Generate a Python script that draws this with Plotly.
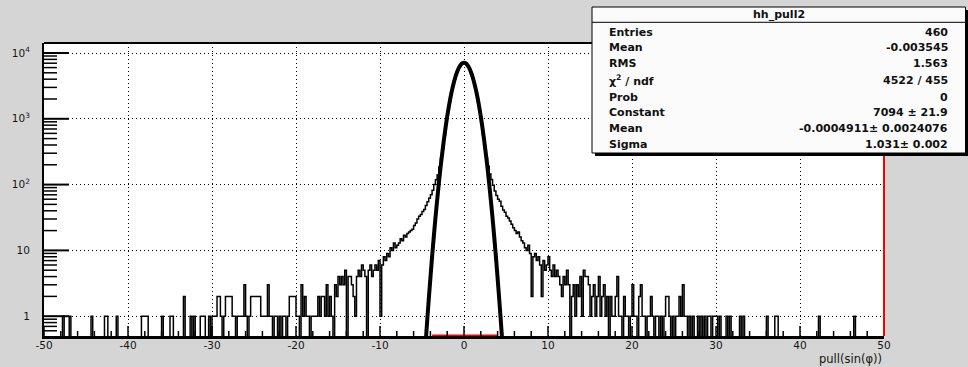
import numpy as np
import plotly.graph_objects as go

# ---------------- data ----------------
X_MIN, X_MAX, BIN_W = -50.0, 50.0, 0.2
Y_MIN, Y_MAX = 0.5, 14188.0

# sparse outer tails: bin centres and contents
far_left_centers = [-47.7, -46.9, -44.3, -42.7, -42.5, -41.3, -38.3, -38.1, -37.9, -37.7,
                    -35.9, -34.9, -34.7, -33.3, -32.5, -32.1, -31.3, -31.1, -30.9, -30.3]
far_left_counts = [1, 1, 1, 1, 1, 1, 1, 1, 1, 1,
                   1, 1, 1, 2, 1, 1, 1, 1, 1, 1]
far_right_centers = [30.1, 30.5, 31.3, 31.7, 32.9, 33.3, 36.1, 37.1, 37.3, 42.3, 46.5]
far_right_counts = [1, 1, 1, 1, 1, 1, 1, 1, 1, 1, 1]

# dense region, consecutive bins from -30 to 30 (bin width 0.2)
counts_left = [  # -30 .. -16
    1, 1, 1, 2, 2, 1, 0, 1, 2, 2,
    2, 2, 1, 1, 0, 1, 1, 1, 1, 3,
    1, 0, 1, 2, 2, 2, 2, 2, 2, 1,
    1, 1, 1, 3, 1, 1, 0, 1, 1, 0,
    1, 0, 1, 1, 0, 1, 2, 2, 2, 2,
    1, 1, 0, 3, 1, 2, 1, 1, 0, 1,
    1, 1, 1, 2, 1, 2, 2, 1, 3, 1]
counts_mid_left = [  # -16 .. -4
    2, 1, 0, 3, 2, 4, 3, 4, 3, 5,
    0, 4, 4, 3, 2, 1, 4, 5, 4, 6,
    5, 4, 0, 5, 6, 4, 5, 6, 5, 7,
    1, 6, 8, 7, 9, 8, 11, 10, 13, 11,
    12, 13, 15, 14, 17, 16, 18, 19, 20, 21,
    24, 26, 30, 33, 35, 39, 42, 48, 55, 62]
counts_core = [  # -4 .. 4
    70, 82, 100, 118, 140, 185, 250, 350, 560, 850,
    1280, 1800, 2440, 3170, 3990, 4840, 5610, 6270, 6770, 7060,
    7090, 6800, 6280, 5630, 4820, 4010, 3180, 2450, 1820, 1290,
    860, 570, 360, 255, 190, 145, 120, 98, 80, 68]
counts_mid_right = [  # 4 .. 16
    60, 56, 47, 41, 38, 33, 31, 28, 25, 22,
    20, 18, 19, 16, 14, 13, 11, 10, 12, 9,
    2, 8, 9, 7, 8, 6, 2, 7, 5, 6,
    8, 5, 4, 6, 4, 5, 4, 3, 2, 4,
    3, 5, 3, 0, 2, 3, 1, 3, 2, 4,
    1, 5, 4, 4, 3, 1, 2, 3, 1, 2]
counts_right = [  # 16 .. 30
    4, 1, 2, 3, 1, 2, 0, 2, 1, 1,
    2, 4, 1, 1, 0, 2, 1, 1, 0, 1,
    3, 1, 1, 0, 2, 3, 1, 1, 0, 1,
    1, 2, 1, 0, 1, 1, 0, 1, 0, 1,
    2, 2, 1, 0, 1, 0, 1, 1, 2, 1,
    3, 1, 1, 0, 1, 0, 1, 0, 0, 1,
    0, 1, 0, 1, 0, 1, 1, 0, 1, 1]

# gaussian fit curve
fit_x = [-4.6, -4.4, -4.2, -4.0, -3.8, -3.6, -3.4, -3.2, -3.0, -2.8, -2.6, -2.4,
         -2.2, -2.0, -1.8, -1.6, -1.4, -1.2, -1.0, -0.8, -0.6, -0.4, -0.2, 0.0,
         0.2, 0.4, 0.6, 0.8, 1.0, 1.2, 1.4, 1.6, 1.8, 2.0, 2.2, 2.4,
         2.6, 2.8, 3.0, 3.2, 3.4, 3.6, 3.8, 4.0, 4.2, 4.4, 4.6]
fit_y = [0.34, 0.79, 1.77, 3.8, 8.0, 16.0, 30.9, 57.4, 103, 178, 295, 472,
         728, 1081, 1545, 2128, 2821, 3604, 4432, 5250, 5989, 6580, 6962, 7094,
         6962, 6580, 5989, 5250, 4432, 3604, 2821, 2128, 1545, 1081, 728, 472,
         295, 178, 103, 57.4, 30.9, 16.0, 8.0, 3.8, 1.77, 0.79, 0.34]
fit_floor_x = [-3.8, 4.0]

x_tick_vals = [-50, -40, -30, -20, -10, 0, 10, 20, 30, 40, 50]
x_tick_text = ["-50", "-40", "-30", "-20", "-10", "0", "10", "20", "30", "40", "50"]
x_minor_step = 2
y_tick_vals = [1, 10, 100, 1000, 10000]
y_tick_text = ["1", "10", "10<sup>2</sup>", "10<sup>3</sup>", "10<sup>4</sup>"]

stat_title = "hh_pull2"
stat_labels = ["Entries", "Mean", "RMS", "\u03c7<sup>2</sup> / ndf", "Prob",
               "Constant", "Mean", "Sigma"]
stat_values = ["460", "-0.003545", "1.563", "4522 / 455", "0",
               "7094 \u00b1 21.9", "-0.0004911\u00b1 0.0024076", "1.031\u00b1 0.002"]
x_title = "pull(sin(\u03c6))"

# ---------------- build histogram ----------------
n_bins = int(round((X_MAX - X_MIN) / BIN_W))
counts = np.zeros(n_bins)


def bin_index(c):
    return int(round((c - X_MIN) / BIN_W - 0.5))


for c, v in zip(far_left_centers, far_left_counts):
    counts[bin_index(c)] = v
for c, v in zip(far_right_centers, far_right_counts):
    counts[bin_index(c)] = v
dense = counts_left + counts_mid_left + counts_core + counts_mid_right + counts_right
start = bin_index(-29.9)
counts[start:start + len(dense)] = dense

edges = X_MIN + BIN_W * np.arange(n_bins + 1)
y_disp = np.where(counts > 0, counts, Y_MIN * 0.1)
y_step = np.append(y_disp, y_disp[-1])

# ---------------- geometry helpers (pixel -> paper) ----------------
W, H = 968, 367
ML, MR, MT, MB = 44, 84, 43, 31
PW, PH = W - ML - MR, H - MT - MB


def px(x):
    return (x - ML) / PW


def py(y):
    return (H - MB - y) / PH


fig = go.Figure()
fig.add_trace(go.Scatter(x=edges, y=y_step, mode="lines",
                         line=dict(shape="hv", color="black", width=1.5),
                         hoverinfo="skip", showlegend=False))
fig.add_trace(go.Scatter(x=fit_floor_x, y=[Y_MIN, Y_MIN], mode="lines",
                         line=dict(color="red", width=3),
                         hoverinfo="skip", showlegend=False))
fig.add_trace(go.Scatter(x=fit_x, y=fit_y, mode="lines",
                         line=dict(shape="spline", color="black", width=4),
                         hoverinfo="skip", showlegend=False))

tickfont = dict(family="DejaVu Sans", size=10.5, color="#151515")
GRID_DASH = "1px,3px"

fig.update_xaxes(range=[X_MIN, X_MAX], tickmode="array", tickvals=x_tick_vals,
                 ticktext=x_tick_text, ticks="", tickfont=tickfont,
                 ticklabelstandoff=-3,
                 showgrid=True, gridcolor="black", griddash=GRID_DASH, gridwidth=1,
                 showline=True, linecolor="black", linewidth=3, zeroline=False)
fig.update_yaxes(type="log", range=[np.log10(Y_MIN), np.log10(Y_MAX)],
                 tickmode="array", tickvals=y_tick_vals, ticktext=y_tick_text,
                 ticks="", tickfont=tickfont, ticklabelstandoff=10,
                 showgrid=True, gridcolor="black", griddash=GRID_DASH, gridwidth=1,
                 showline=True, linecolor="black", linewidth=2, zeroline=False)

# axis tick marks (pointing into the frame), positioned from the tick lists
shapes = []
x_minor = [float(v) for v in np.arange(X_MIN, X_MAX + 1e-9, x_minor_step)]
for v in x_minor:
    major = any(abs(v - t) < 1e-9 for t in x_tick_vals)
    shapes.append(dict(type="line", xref="x", yref="paper", x0=v, x1=v,
                       y0=0, y1=(10 if major else 5) / PH,
                       line=dict(color="black", width=1.5), layer="above"))
y_minor = [m * 10.0 ** e for e in range(-1, 5) for m in range(2, 10)]
y_minor = [v for v in y_minor if Y_MIN < v < Y_MAX]
for v in y_tick_vals:
    shapes.append(dict(type="line", xref="paper", yref="y", x0=0, x1=25 / PW,
                       y0=float(v), y1=float(v),
                       line=dict(color="black", width=2), layer="above"))
for v in y_minor:
    shapes.append(dict(type="line", xref="paper", yref="y", x0=0, x1=13 / PW,
                       y0=float(v), y1=float(v),
                       line=dict(color="black", width=1.5), layer="above"))

shapes += [
    dict(type="line", xref="paper", yref="paper", x0=0, x1=1, y0=1, y1=1,
         line=dict(color="black", width=2), layer="above"),
    dict(type="line", xref="paper", yref="paper", x0=1, x1=1, y0=0, y1=1,
         line=dict(color="red", width=2), layer="above"),
    # stats box shadow + box
    dict(type="rect", xref="paper", yref="paper", x0=px(595), x1=px(968.5),
         y0=py(156), y1=py(10), fillcolor="black", line=dict(width=0), layer="above"),
    dict(type="rect", xref="paper", yref="paper", x0=px(592), x1=px(965.5),
         y0=py(153), y1=py(7), fillcolor="#fbfbfb",
         line=dict(color="black", width=1), layer="above"),
    dict(type="line", xref="paper", yref="paper", x0=px(592), x1=px(965.5),
         y0=py(22.3), y1=py(22.3), line=dict(color="black", width=1), layer="above"),
]

boxfont = dict(family="DejaVu Sans", size=11, color="#111111", weight="bold")
annotations = [dict(text=stat_title, x=px(778.5), y=py(14.3), xref="paper", yref="paper",
                    xanchor="center", yanchor="middle", showarrow=False, font=boxfont)]
row_y = [32.3, 47.3, 63.3, 80.0, 97.3, 112.7, 128.3, 144.0]
for lab, val, ry in zip(stat_labels, stat_values, row_y):
    annotations.append(dict(text=lab, x=px(607), y=py(ry), xref="paper", yref="paper",
                            xanchor="left", yanchor="middle", showarrow=False, font=boxfont))
    annotations.append(dict(text=val, x=px(950), y=py(ry), xref="paper", yref="paper",
                            xanchor="right", yanchor="middle", showarrow=False, font=boxfont))
annotations.append(dict(text=x_title, x=1, y=py(359), xref="paper", yref="paper",
                        xanchor="right", yanchor="middle", showarrow=False,
                        font=dict(family="DejaVu Sans", size=11.5, color="#151515")))

fig.update_layout(width=W, height=H, autosize=False,
                  margin=dict(l=ML, r=MR, t=MT, b=MB, pad=0),
                  paper_bgcolor="#d5d5d5", plot_bgcolor="white",
                  shapes=shapes, annotations=annotations, showlegend=False)

fig.write_html("out.html")
